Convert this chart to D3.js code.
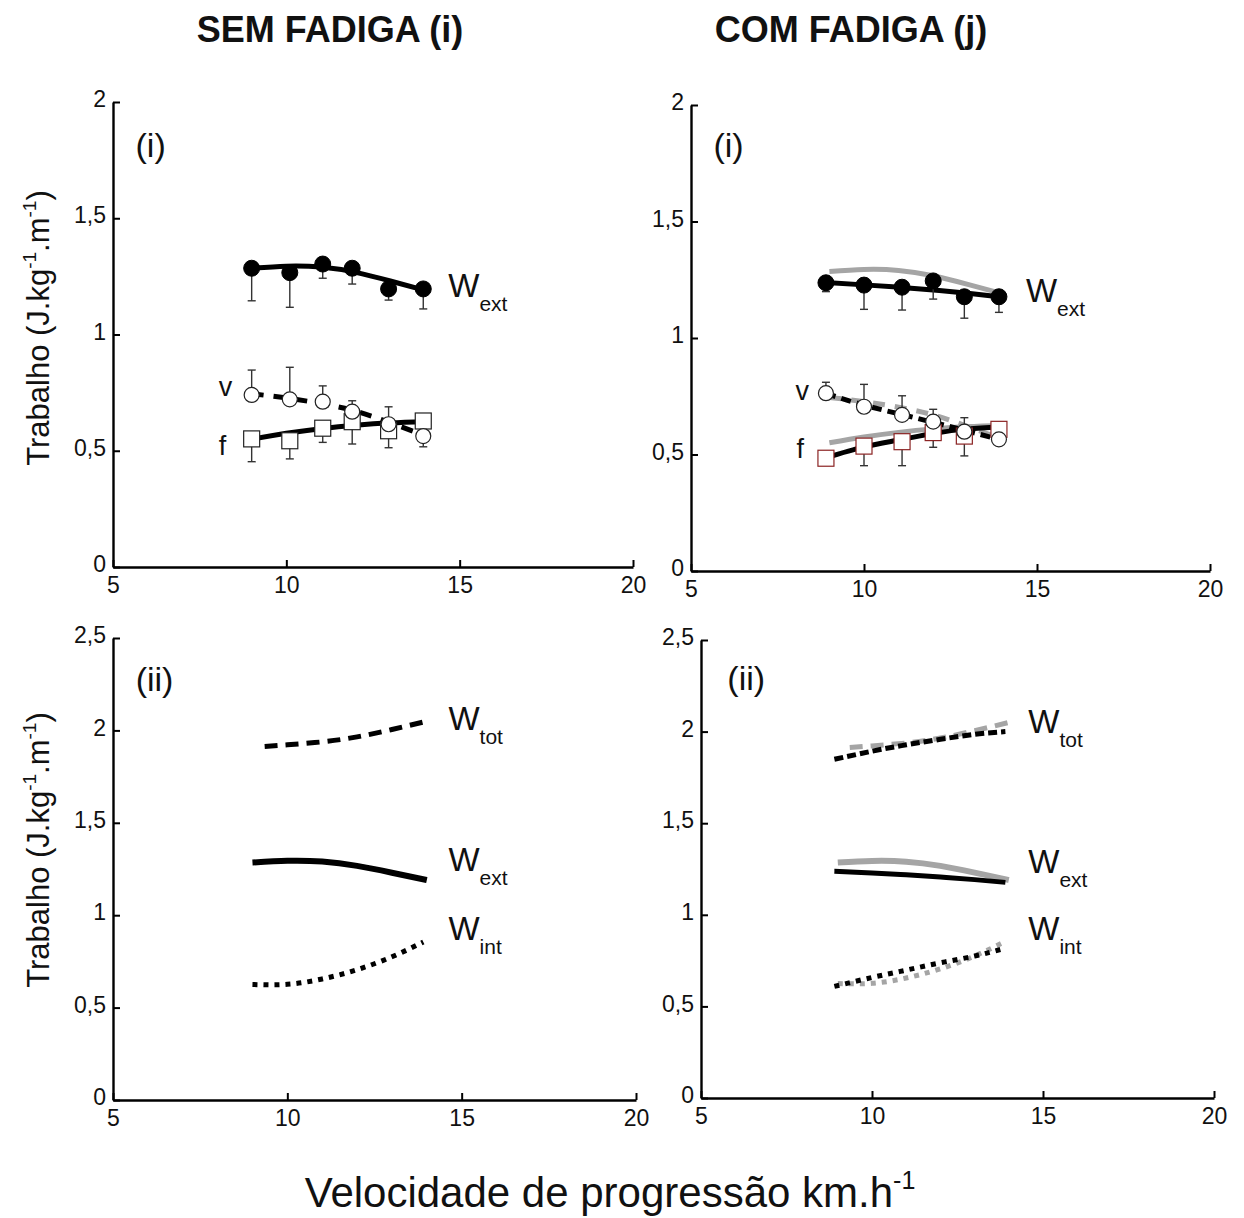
<!DOCTYPE html>
<html>
<head>
<meta charset="utf-8">
<script src="https://cdn.jsdelivr.net/npm/d3@7"></script>
<style>
  body { margin: 0; background: #fff; }
  svg { display: block; }
  text { font-family: "Liberation Sans", Arial, sans-serif; fill: #111; }
</style>
</head>
<body>
<svg id="chart" width="1244" height="1218"></svg>
<script>
// Running speeds (km/h) of the six stages
const speedSem = [9.0, 10.1, 11.05, 11.9, 12.95, 13.95];
const speedCom = [8.9, 10.0, 11.1, 12.0, 12.9, 13.9];

// Measured means; SD arrays are signed: + bar drawn upward, - downward, 0 hidden
const wextSem   = [1.285, 1.266, 1.303, 1.285, 1.196, 1.196];
const wextSemSd = [-0.140, -0.149, -0.061, -0.068, -0.048, -0.086];
const vSem      = [0.740, 0.721, 0.711, 0.668, 0.614, 0.563];
const vSemSd    = [0.107, 0.138, 0.068, 0.047, 0.075, -0.046];
const fSem      = [0.551, 0.543, 0.597, 0.625, 0.586, 0.628];
const fSemSd    = [-0.098, -0.078, -0.061, -0.096, -0.073, 0];

const wextCom   = [1.237, 1.227, 1.218, 1.245, 1.177, 1.177];
const wextComSd = [-0.038, -0.104, -0.098, -0.078, -0.092, -0.067];
const vCom      = [0.763, 0.705, 0.670, 0.641, 0.598, 0.565];
const vComSd    = [0.047, 0.096, 0.082, 0.053, 0.060, 0];
const fCom      = [0.484, 0.536, 0.555, 0.594, 0.579, 0.608];
const fComSd    = [0, -0.084, -0.103, -0.063, -0.085, 0];

// Fitted curves
const fitXSem    = [9, 10, 11, 12, 13, 14];
const wextFitSem = [1.285, 1.294, 1.29, 1.267, 1.23, 1.19];
const vFitSem    = [0.745, 0.727, 0.703, 0.67, 0.62, 0.565];
const fFitSem    = [0.55, 0.575, 0.595, 0.61, 0.62, 0.625];

const fitXCom    = [8.9, 10, 11, 12, 13, 13.9];
const wextFitCom = [1.238, 1.228, 1.218, 1.206, 1.192, 1.177];
const vFitCom    = [0.762, 0.712, 0.675, 0.638, 0.60, 0.565];
const fFitCom    = [0.486, 0.533, 0.562, 0.59, 0.61, 0.617];

// Total / external / internal work curves
const wtotXSem = [9.35, 10, 11, 12, 13, 14];
const wtotSem  = [1.913, 1.922, 1.938, 1.965, 2.005, 2.05];
const wintXSem = [9, 10, 11, 12, 13, 13.9];
const wintSem  = [0.625, 0.626, 0.655, 0.705, 0.775, 0.855];

const wtotXCom = [8.9, 10, 11, 12, 13, 13.9];
const wtotCom  = [1.849, 1.893, 1.928, 1.958, 1.985, 2.0];
const wintXCom = [8.9, 10, 11, 12, 13, 13.9];
const wintCom  = [0.609, 0.658, 0.698, 0.738, 0.775, 0.818];

// Axes
const xTicks = [5, 10, 15, 20];
const yTicksTop = [0, 0.5, 1, 1.5, 2];
const yTicksBottom = [0, 0.5, 1, 1.5, 2, 2.5];

const titles = ["SEM FADIGA (i)", "COM FADIGA (j)"];
const GRAY = "#a5a5a5";
const RED = "#8b2323";

const svg = d3.select("#chart");
const fmt = d => String(d).replace(".", ",");
const pts = (xs, ys) => xs.map((x, i) => [x, ys[i]]);

function makePanel(box, yMax, yTicks) {
  const x = d3.scaleLinear().domain([5, 20]).range([box.x0, box.x1]);
  const y = d3.scaleLinear().domain([0, yMax]).range([box.y0, box.y1]);
  const g = svg.append("g");
  const ax = g.append("g").attr("transform", `translate(0,${box.y0})`)
    .call(d3.axisBottom(x).tickValues(xTicks).tickSizeInner(-7).tickSizeOuter(0).tickPadding(9).tickFormat(fmt));
  const ay = g.append("g").attr("transform", `translate(${box.x0},0)`)
    .call(d3.axisLeft(y).tickValues(yTicks).tickSizeInner(-7).tickSizeOuter(0).tickPadding(7).tickFormat(fmt));
  [ax, ay].forEach(a => {
    a.select(".domain").attr("stroke", "#000").attr("stroke-width", 2.4);
    a.selectAll(".tick line").attr("stroke", "#000").attr("stroke-width", 2);
    a.selectAll(".tick text").style("font-size", "23px").attr("fill", "#222");
  });
  ay.selectAll(".tick text").attr("dy", "0.2em");
  ax.selectAll(".tick text").attr("dy", "0.72em");
  return { g, x, y };
}

function drawLine(p, data, opts) {
  const line = d3.line().x(d => p.x(d[0])).y(d => p.y(d[1])).curve(d3.curveNatural);
  p.g.append("path").datum(data)
    .attr("d", line)
    .attr("fill", "none")
    .attr("stroke", opts.color || "#000")
    .attr("stroke-width", opts.width || 5)
    .attr("stroke-dasharray", opts.dash || null);
}

function drawErrors(p, xs, ys, sds) {
  const data = xs.map((x, i) => ({ x, y: ys[i], sd: sds[i] })).filter(d => d.sd !== 0);
  const eg = p.g.append("g").attr("stroke", "#333").attr("stroke-width", 1.4);
  eg.selectAll("line.bar").data(data).join("line")
    .attr("x1", d => p.x(d.x)).attr("x2", d => p.x(d.x))
    .attr("y1", d => p.y(d.y)).attr("y2", d => p.y(d.y + d.sd));
  eg.selectAll("line.cap").data(data).join("line")
    .attr("x1", d => p.x(d.x) - 4).attr("x2", d => p.x(d.x) + 4)
    .attr("y1", d => p.y(d.y + d.sd)).attr("y2", d => p.y(d.y + d.sd));
}

function drawCircles(p, xs, ys, filled) {
  p.g.append("g").selectAll("circle").data(pts(xs, ys)).join("circle")
    .attr("cx", d => p.x(d[0])).attr("cy", d => p.y(d[1]))
    .attr("r", filled ? 8 : 7.5)
    .attr("fill", filled ? "#000" : "#fff")
    .attr("stroke", filled ? "#000" : "#222")
    .attr("stroke-width", filled ? 1 : 1.2);
}

function drawSquares(p, xs, ys, stroke) {
  const s = 16;
  p.g.append("g").selectAll("rect").data(pts(xs, ys)).join("rect")
    .attr("x", d => p.x(d[0]) - s / 2).attr("y", d => p.y(d[1]) - s / 2)
    .attr("width", s).attr("height", s)
    .attr("fill", "#fff").attr("stroke", stroke).attr("stroke-width", 1.2);
}

function wLabel(p, xv, yv, sub) {
  const t = p.g.append("text").attr("x", p.x(xv)).attr("y", p.y(yv));
  t.append("tspan").text("W").style("font-size", "33px");
  t.append("tspan").text(sub).attr("dy", 14).style("font-size", "21px");
}

function plainLabel(p, xv, yv, txt, size) {
  p.g.append("text").attr("x", p.x(xv)).attr("y", p.y(yv)).text(txt).style("font-size", size + "px");
}

// Panels
const pTL = makePanel({ x0: 113, x1: 633, y0: 567, y1: 102 }, 2, yTicksTop);
const pTR = makePanel({ x0: 691, x1: 1210, y0: 571, y1: 105 }, 2, yTicksTop);
const pBL = makePanel({ x0: 113, x1: 636, y0: 1100, y1: 638 }, 2.5, yTicksBottom);
const pBR = makePanel({ x0: 701, x1: 1214, y0: 1098, y1: 640 }, 2.5, yTicksBottom);

// Top left: without fatigue
drawLine(pTL, pts(fitXSem, wextFitSem), {});
drawLine(pTL, pts(fitXSem, vFitSem), { dash: "12,10" });
drawLine(pTL, pts(fitXSem, fFitSem), {});
drawErrors(pTL, speedSem, wextSem, wextSemSd);
drawErrors(pTL, speedSem, fSem, fSemSd);
drawErrors(pTL, speedSem, vSem, vSemSd);
drawCircles(pTL, speedSem, wextSem, true);
drawSquares(pTL, speedSem, fSem, "#222");
drawCircles(pTL, speedSem, vSem, false);
plainLabel(pTL, 5.65, 1.765, "(i)", 34);
wLabel(pTL, 14.67, 1.16, "ext");
plainLabel(pTL, 8.05, 0.735, "v", 27);
plainLabel(pTL, 8.05, 0.483, "f", 27);

// Top right: with fatigue (gray = curves without fatigue)
drawLine(pTR, pts(fitXSem, wextFitSem), { color: GRAY });
drawLine(pTR, pts(fitXSem, vFitSem), { color: GRAY, dash: "12,10" });
drawLine(pTR, pts(fitXSem, fFitSem), { color: GRAY });
drawLine(pTR, pts(fitXCom, wextFitCom), {});
drawLine(pTR, pts(fitXCom, vFitCom), { dash: "10,6" });
drawLine(pTR, pts(fitXCom, fFitCom), {});
drawErrors(pTR, speedCom, wextCom, wextComSd);
drawErrors(pTR, speedCom, fCom, fComSd);
drawErrors(pTR, speedCom, vCom, vComSd);
drawCircles(pTR, speedCom, wextCom, true);
drawSquares(pTR, speedCom, fCom, RED);
drawCircles(pTR, speedCom, vCom, false);
plainLabel(pTR, 5.65, 1.775, "(i)", 34);
wLabel(pTR, 14.68, 1.155, "ext");
plainLabel(pTR, 8.02, 0.735, "v", 27);
plainLabel(pTR, 8.05, 0.484, "f", 27);

// Bottom left: work components without fatigue
drawLine(pBL, pts(wtotXSem, wtotSem), { dash: "13,8" });
drawLine(pBL, pts(fitXSem, wextFitSem), { width: 6 });
drawLine(pBL, pts(wintXSem, wintSem), { dash: "5,6" });
plainLabel(pBL, 5.65, 2.215, "(ii)", 34);
wLabel(pBL, 14.62, 2.0, "tot");
wLabel(pBL, 14.62, 1.24, "ext");
wLabel(pBL, 14.62, 0.865, "int");

// Bottom right: with fatigue (gray = without fatigue)
drawLine(pBR, pts(wtotXSem, wtotSem), { color: GRAY, dash: "13,8" });
drawLine(pBR, pts(fitXSem, wextFitSem), { color: GRAY, width: 6 });
drawLine(pBR, pts(wintXSem, wintSem), { color: GRAY, dash: "5,6" });
drawLine(pBR, pts(wtotXCom, wtotCom), { dash: "9,4" });
drawLine(pBR, pts(fitXCom, wextFitCom), {});
drawLine(pBR, pts(wintXCom, wintCom), { dash: "5,6" });
plainLabel(pBR, 5.77, 2.225, "(ii)", 34);
wLabel(pBR, 14.57, 1.99, "tot");
wLabel(pBR, 14.57, 1.23, "ext");
wLabel(pBR, 14.57, 0.864, "int");

// Column titles
svg.selectAll("text.title").data(titles).join("text")
  .attr("class", "title")
  .attr("x", (d, i) => [330, 851][i]).attr("y", 42)
  .attr("text-anchor", "middle")
  .style("font-size", "36px").style("font-weight", "bold")
  .text(d => d);

// Y axis titles
[328, 850].forEach(cy => {
  const t = svg.append("text")
    .attr("transform", `translate(49,${cy}) rotate(-90)`)
    .attr("text-anchor", "middle")
    .style("font-size", "31px");
  t.append("tspan").text("Trabalho (J.kg");
  t.append("tspan").text("-1").attr("dy", -13).style("font-size", "19px");
  t.append("tspan").text(".m").attr("dy", 13);
  t.append("tspan").text("-1").attr("dy", -13).style("font-size", "19px");
  t.append("tspan").text(")").attr("dy", 13);
});

// X axis title
const xt = svg.append("text").attr("x", 610).attr("y", 1207)
  .attr("text-anchor", "middle").style("font-size", "42px");
xt.append("tspan").text("Velocidade de progressão km.h");
xt.append("tspan").text("-1").attr("dy", -18).style("font-size", "25px");
</script>
</body>
</html>
